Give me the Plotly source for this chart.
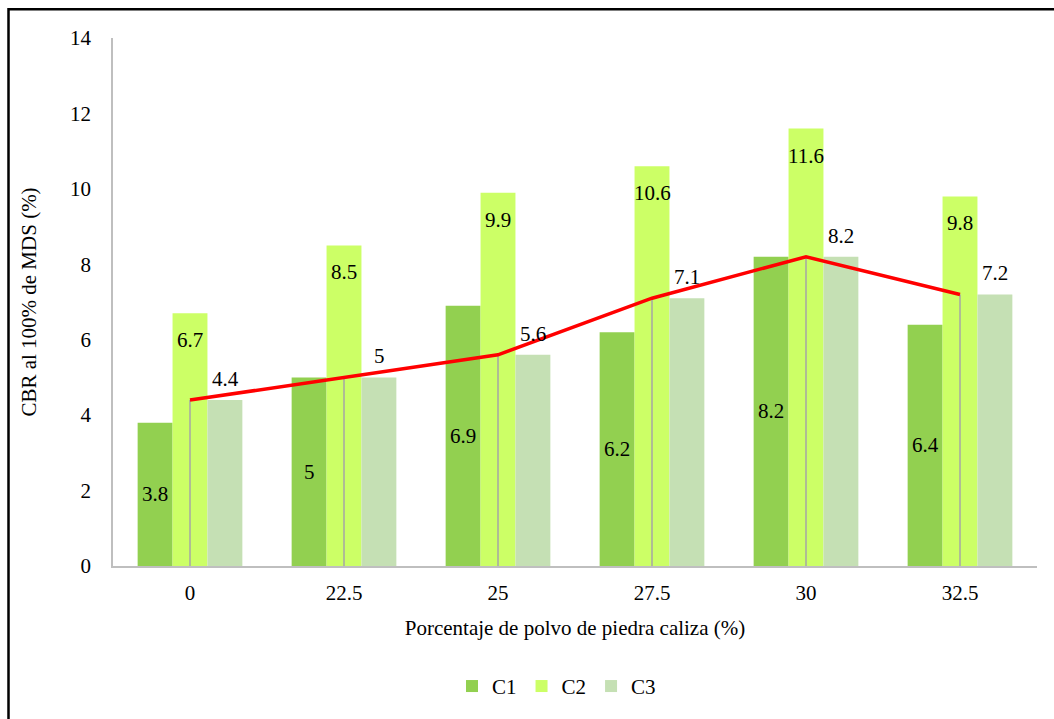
import plotly.graph_objects as go

categories = ["0", "22.5", "25", "27.5", "30", "32.5"]
c1 = [3.8, 5, 6.9, 6.2, 8.2, 6.4]
c2 = [6.7, 8.5, 9.9, 10.6, 11.6, 9.8]
c3 = [4.4, 5, 5.6, 7.1, 8.2, 7.2]

FONT = "Liberation Serif"
FS = 21
colors = {"C1": "#92D050", "C2": "#CCFF66", "C3": "#C5E0B4"}

fig = go.Figure()
for name, vals in (("C1", c1), ("C2", c2), ("C3", c3)):
    fig.add_trace(go.Bar(name=name, x=categories, y=vals,
                         marker=dict(color=colors[name], line=dict(width=0))))

# trend of C3 with drop lines to the axis
fig.add_trace(go.Scatter(
    x=categories, y=c3, mode="lines", showlegend=False,
    line=dict(color="#FF0000", width=3.5),
    error_y=dict(type="data", symmetric=False, array=[0] * len(c3),
                 arrayminus=c3, color="#A6A6A6", thickness=1.5, width=0),
))

# data labels (x given as category index)
ann = []
for i, v in enumerate(c1):
    ann.append(dict(x=i, y=v / 2, text=str(v), xshift=-35, yanchor="middle"))
for i, v in enumerate(c2):
    ann.append(dict(x=i, y=v, text=str(v), yshift=-27, yanchor="middle"))
for i, v in enumerate(c3):
    ann.append(dict(x=i, y=v, text=str(v), xshift=35, yshift=21, yanchor="middle"))
for a in ann:
    a["showarrow"] = False
    a["font"] = dict(family=FONT, size=FS, color="black")

fig.update_layout(
    width=1054, height=719,
    margin=dict(l=113, r=17, t=38, b=150),
    paper_bgcolor="white", plot_bgcolor="white",
    barmode="group", bargap=0.32, bargroupgap=0,
    font=dict(family=FONT, size=FS, color="black"),
    annotations=ann,
    showlegend=True,
    legend=dict(orientation="h", x=0.48, xanchor="center", y=-0.228,
                yanchor="middle", font=dict(family=FONT, size=FS),
                itemwidth=30, traceorder="normal"),
    shapes=[dict(type="rect", xref="paper", yref="paper",
                 x0=(8.5 - 113) / 924, x1=(1070 - 113) / 924,
                 y0=(569 - 740) / 531, y1=(569 - 9) / 531,
                 line=dict(color="black", width=2.5), layer="below")],
)
fig.update_xaxes(
    type="category", range=[-0.5, 5.5],
    showline=True, linecolor="#BFBFBF", linewidth=1.5, showgrid=False,
    ticks="", ticklabelstandoff=7, tickfont=dict(family=FONT, size=FS),
    title=dict(text="Porcentaje de polvo de piedra caliza (%)",
               font=dict(family=FONT, size=FS), standoff=16),
)
fig.update_yaxes(
    range=[0, 14], dtick=2, showline=True, linecolor="#BFBFBF", linewidth=1.5,
    showgrid=False, zeroline=False, ticks="", ticklabelstandoff=16,
    tickfont=dict(family=FONT, size=FS),
    title=dict(text="CBR al 100% de MDS (%)", font=dict(family=FONT, size=FS),
               standoff=28),
)

fig.write_html("out.html")
